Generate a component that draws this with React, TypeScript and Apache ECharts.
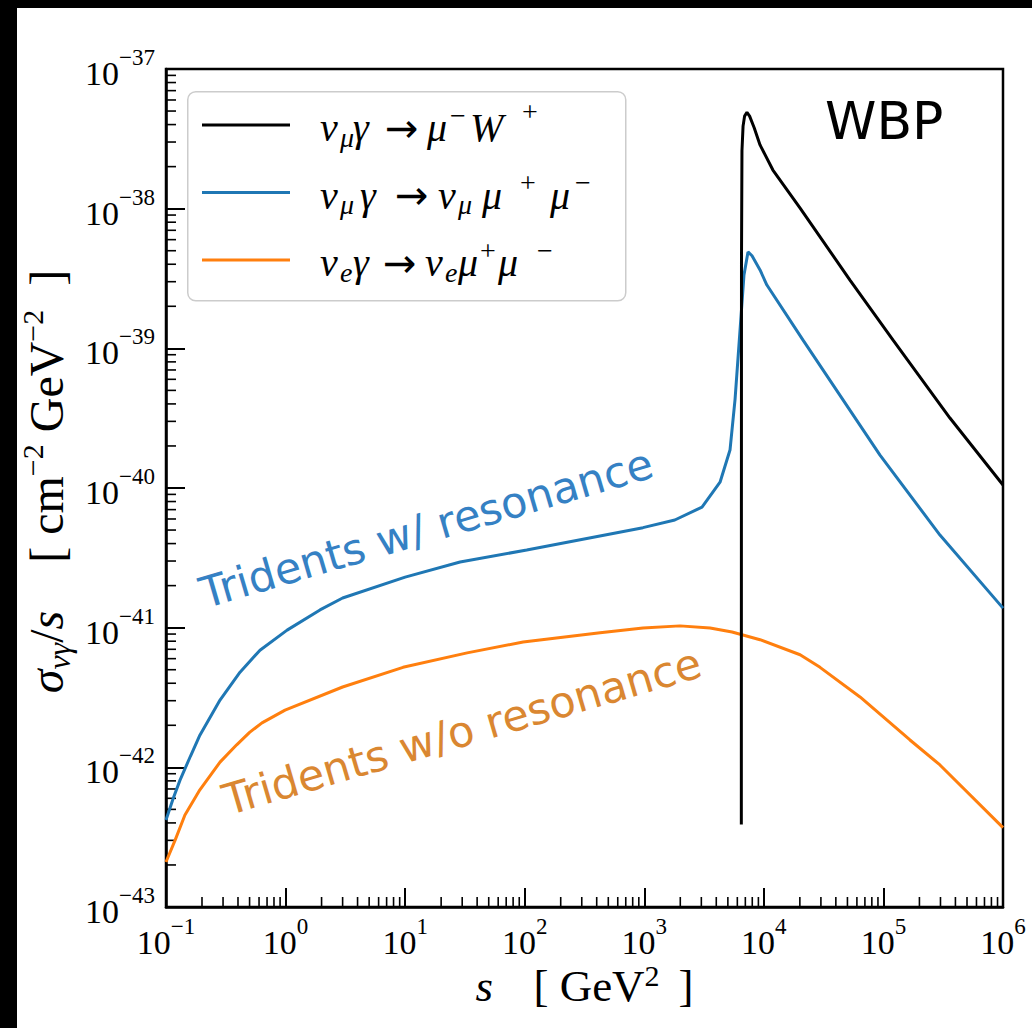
import React, { useEffect, useRef } from "react";
import * as echarts from "echarts";

// s [GeV^2] and sigma/s [cm^-2 GeV^-2] samples for each process
const wbpS = [6480, 6490, 6500, 6560, 6700, 6900, 7220, 7600, 8300, 9290, 11900, 20100, 52500, 120000, 360000, 1000000];
const wbpSigma = [3.9e-43, 1.0e-40, 4.0e-39, 2.6e-38, 3.9e-38, 4.6e-38, 4.9e-38, 4.6e-38, 3.8e-38, 2.86e-38, 1.89e-38, 1.01e-38, 3.08e-39, 1.15e-39, 3.17e-40, 1.05e-40];

const muS = [0.1, 0.115, 0.131, 0.16, 0.192, 0.283, 0.416, 0.611, 1.03, 1.94, 3.0, 10, 28.8, 104, 975, 1800, 3040, 4300, 5210, 5740, 6320, 6820, 7370, 7960, 9290, 10600, 21200, 93600, 297000, 1000000];
const muSigma = [4.2e-43, 6.0e-43, 8.1e-43, 1.2e-42, 1.7e-42, 3.03e-42, 4.8e-42, 6.9e-42, 9.6e-42, 1.34e-41, 1.63e-41, 2.3e-41, 2.95e-41, 3.6e-41, 5.2e-41, 5.9e-41, 7.3e-41, 1.1e-40, 1.87e-40, 4.3e-40, 1.35e-39, 3.35e-39, 4.9e-39, 4.6e-39, 3.64e-39, 2.84e-39, 1.15e-39, 1.72e-40, 4.6e-41, 1.38e-41];

const eS = [0.1, 0.119, 0.144, 0.192, 0.283, 0.39, 0.5, 0.635, 0.99, 3.0, 9.6, 33, 97, 427, 975, 1990, 3550, 5420, 9290, 20100, 29500, 63700, 166700, 297000, 1000000];
const eSigma = [2.1e-43, 3.0e-43, 4.56e-43, 6.9e-43, 1.09e-42, 1.45e-42, 1.78e-42, 2.08e-42, 2.57e-42, 3.76e-42, 5.2e-42, 6.6e-42, 7.9e-42, 9.2e-42, 9.96e-42, 1.03e-41, 9.96e-42, 9.3e-42, 8.2e-42, 6.4e-42, 5.2e-42, 3.19e-42, 1.57e-42, 1.04e-42, 3.7e-43];

const seriesNames = ["wbp", "mumu", "emu"];
const seriesColors = ["#000000", "#1f77b4", "#ff7f0e"];

const xRange = [0.1, 1e6];
// the y axis runs in units of 1e-43 cm^-2 GeV^-2 (ECharts rounds tiny log extents to 0)
const Y_EXP = -43;
const Y_UNIT = Math.pow(10, Y_EXP);
const yRange = [1e-43, 1e-37];
const minorMultipliers = [2, 3, 4, 5, 6, 7, 8, 9];

const SERIF = "'Liberation Serif', 'Times New Roman', serif";
const SANS = "'DejaVu Sans', sans-serif";

function zip(xs: number[], ys: number[]) {
  return xs.map((x, i) => [x, ys[i] / Y_UNIT]);
}

function minorTicks(lo: number, hi: number) {
  const out: number[] = [];
  for (let e = Math.round(Math.log10(lo)); e < Math.round(Math.log10(hi)); e++) {
    for (const m of minorMultipliers) out.push(m * Math.pow(10, e));
  }
  return out;
}

function powText(e: number) {
  const exp = e < 0 ? "\u2212" + String(-e) : String(e);
  return "{b|10}{s|" + exp + "}";
}
const xLabel = (v: number) => powText(Math.round(Math.log10(v)));
const yLabel = (v: number) => powText(Math.round(Math.log10(v)) + Y_EXP);

const tickRich = {
  b: { fontFamily: SERIF, fontSize: 34, color: "#000", height: 37, lineHeight: 46, verticalAlign: "bottom" },
  s: { fontFamily: SERIF, fontSize: 23, color: "#000", height: 23, lineHeight: 23, verticalAlign: "top" },
};

// legend math: base, subscript and superscript token styles
function legendStyle(kind: string, width: number) {
  const base = { fontFamily: SERIF, color: "#000", width, align: "left" };
  if (kind === "sub") return { ...base, fontStyle: "italic", fontSize: 28, height: 32, lineHeight: 32, verticalAlign: "bottom" };
  if (kind === "sup") return { ...base, fontSize: 28, height: 36, lineHeight: 36, verticalAlign: "top" };
  if (kind === "supHi") return { ...base, fontSize: 28, height: 28, lineHeight: 28, verticalAlign: "top" };
  if (kind === "arrow") return { ...base, fontFamily: SANS, fontSize: 40, height: 51, lineHeight: 56, verticalAlign: "bottom" };
  return { ...base, fontStyle: "italic", fontSize: 40, height: 51, lineHeight: 56, verticalAlign: "bottom" };
}

// [style kind, text, advance in px]
const legendTokens: Record<string, [string, string, number][]> = {
  wbp: [
    ["sp", " ", 25], ["i", "\u03bd", 20], ["sub", "\u03bc", 13], ["i", "\u03b3", 32], ["arrow", "\u2192", 42],
    ["i", "\u03bc", 23], ["sup", "\u2212", 20], ["i", "W", 52], ["supHi", "+", 20],
  ],
  mumu: [
    ["sp", " ", 25], ["i", "\u03bd", 20], ["sub", "\u03bc", 20], ["i", "\u03b3", 35], ["arrow", "\u2192", 43],
    ["i", "\u03bd", 20], ["sub", "\u03bc", 24], ["i", "\u03bc", 38], ["sup", "+", 30], ["i", "\u03bc", 25], ["sup", "\u2212", 23],
  ],
  emu: [
    ["sp", " ", 25], ["i", "\u03bd", 20], ["sub", "e", 13], ["i", "\u03b3", 30], ["arrow", "\u2192", 42],
    ["i", "\u03bd", 20], ["sub", "e", 13], ["i", "\u03bc", 22], ["sup", "+", 18], ["i", "\u03bc", 39], ["sup", "\u2212", 23],
  ],
};

const legendRich: Record<string, any> = {};
const legendLabels: Record<string, string> = {};
for (const name of seriesNames) {
  legendLabels[name] = legendTokens[name]
    .map(([kind, text, w], k) => {
      const key = name + k;
      legendRich[key] = kind === "sp" ? { width: w, fontSize: 10, height: 51, lineHeight: 56 } : legendStyle(kind, w);
      return "{" + key + "|" + text + "}";
    })
    .join("");
}

const yNameRich = {
  sp: { width: 13, fontSize: 10, height: 47, lineHeight: 52, verticalAlign: "bottom" },
  i: { fontFamily: SERIF, fontStyle: "italic", fontSize: 48, color: "#000", height: 47, lineHeight: 52, verticalAlign: "bottom" },
  r: { fontFamily: SERIF, fontSize: 48, color: "#000", height: 47, lineHeight: 52, verticalAlign: "bottom" },
  sub: { fontFamily: SERIF, fontStyle: "italic", fontSize: 32, color: "#000", height: 23, lineHeight: 23, verticalAlign: "bottom" },
  sup: { fontFamily: SERIF, fontSize: 30, color: "#000", height: 28, lineHeight: 28, verticalAlign: "top" },
};

const xNameRich = {
  i: { fontFamily: SERIF, fontStyle: "italic", fontSize: 45, color: "#000", height: 48, lineHeight: 56, verticalAlign: "bottom", width: 58, align: "left" },
  r: { fontFamily: SERIF, fontSize: 45, color: "#000", height: 48, lineHeight: 56, verticalAlign: "bottom", align: "left" },
  sup: { fontFamily: SERIF, fontSize: 30, color: "#000", height: 42, lineHeight: 42, verticalAlign: "top", width: 34, align: "left" },
};

export default function App() {
  const ref = useRef<HTMLDivElement>(null);

  useEffect(() => {
    if (!ref.current) return;
    const chart = echarts.init(ref.current, undefined, { renderer: "svg" });

    const yMin = yRange[0] / Y_UNIT;
    const yMax = yRange[1] / Y_UNIT;
    const xMinor = minorTicks(xRange[0], xRange[1]).map((v) => [v, yMin]);
    const yMinor = minorTicks(yMin, yMax).map((v) => [xRange[0], v]);

    const lineSeries = [
      { name: "wbp", data: zip(wbpS, wbpSigma) },
      { name: "mumu", data: zip(muS, muSigma) },
      { name: "emu", data: zip(eS, eSigma) },
    ].map((s, i) => ({
      type: "line",
      name: s.name,
      data: s.data,
      showSymbol: false,
      symbol: "none",
      smooth: false,
      lineStyle: { color: seriesColors[i], width: 3 },
      itemStyle: { color: seriesColors[i] },
      z: 3 + (2 - i),
    }));

    const axisCommon = {
      type: "log",
      logBase: 10,
      splitLine: { show: false },
      axisLine: { show: true, lineStyle: { color: "#000", width: 2.5 } },
      axisTick: { show: true, inside: true, length: 19, lineStyle: { color: "#000", width: 2 } },
      nameLocation: "middle",
      nameMoveOverlap: false,
    };

    chart.setOption({
      animation: false,
      backgroundColor: "#ffffff",
      grid: {
        left: 149,
        top: 61,
        width: 837,
        height: 838,
        show: true,
        borderColor: "#000",
        borderWidth: 2.5,
        containLabel: false,
        outerBoundsMode: "none",
      },
      xAxis: {
        ...axisCommon,
        min: xRange[0],
        max: xRange[1],
        splitNumber: 7,
        axisLabel: { margin: 8, formatter: xLabel, rich: tickRich, showMinLabel: true, showMaxLabel: true, hideOverlap: false },
        name: "{i|s}{r|[ GeV}{sup|2}{r|]}",
        nameGap: 47,
        nameTextStyle: { rich: xNameRich },
      },
      yAxis: {
        ...axisCommon,
        min: yMin,
        max: yMax,
        splitNumber: 6,
        axisLabel: { margin: 11, formatter: yLabel, rich: tickRich, showMinLabel: true, showMaxLabel: true, hideOverlap: false },
        name: "{sp| }{i|\u03c3}{sub|\u03bd\u03b3}{r|/}{i|s}{r|    [ cm}{sup|\u22122}{r| GeV}{sup|\u22122}{r|  ]}",
        nameRotate: 90,
        nameGap: 96,
        nameTextStyle: { rich: yNameRich },
      },
      legend: {
        show: true,
        data: seriesNames,
        orient: "vertical",
        left: 185,
        top: 89,
        padding: 0,
        itemWidth: 88,
        itemHeight: 3,
        itemGap: 11.5,
        icon: "rect",
        selectedMode: false,
        formatter: (name: string) => legendLabels[name],
        textStyle: { rich: legendRich },
      },
      graphic: [
        {
          type: "rect",
          left: 170,
          top: 83,
          shape: { width: 438, height: 209, r: 8 },
          style: { fill: "rgba(255,255,255,0.8)", stroke: "#cccccc", lineWidth: 1.5 },
          z: -1,
          silent: true,
        },
        {
          type: "text",
          x: 808,
          y: 112.5,
          style: { text: "WBP", font: "52px " + SANS, fill: "#000", textAlign: "left", textVerticalAlign: "middle" },
          z: 20,
        },
        {
          type: "text",
          x: 184,
          y: 586,
          rotation: (16.3 * Math.PI) / 180,
          style: { text: "Tridents w/ resonance", font: "43px " + SANS, fill: "#3581c4", textAlign: "left", textVerticalAlign: "middle" },
          z: 20,
        },
        {
          type: "text",
          x: 207,
          y: 793,
          rotation: (16.3 * Math.PI) / 180,
          style: { text: "Tridents w/o resonance", font: "43px " + SANS, fill: "#da8731", textAlign: "left", textVerticalAlign: "middle" },
          z: 20,
        },
      ],
      series: [
        ...lineSeries,
        {
          type: "custom",
          name: "xMinor",
          data: xMinor,
          silent: true,
          renderItem: (params: any, api: any) => {
            const p = api.coord([api.value(0), api.value(1)]);
            return {
              type: "line",
              shape: { x1: p[0], y1: p[1], x2: p[0], y2: p[1] - 10 },
              style: { stroke: "#000", lineWidth: 1.6 },
            };
          },
          z: 2,
        },
        {
          type: "custom",
          name: "yMinor",
          data: yMinor,
          silent: true,
          renderItem: (params: any, api: any) => {
            const p = api.coord([api.value(0), api.value(1)]);
            return {
              type: "line",
              shape: { x1: p[0], y1: p[1], x2: p[0] + 10, y2: p[1] },
              style: { stroke: "#000", lineWidth: 1.6 },
            };
          },
          z: 2,
        },
      ],
    });

    return () => chart.dispose();
  }, []);

  return (
    <div style={{ position: "fixed", left: 0, top: 0, width: 1032, height: 1028, background: "#000", overflow: "hidden" }}>
      <div ref={ref} style={{ position: "absolute", left: 17, top: 8, width: 1015, height: 1020, background: "#fff" }} />
    </div>
  );
}
